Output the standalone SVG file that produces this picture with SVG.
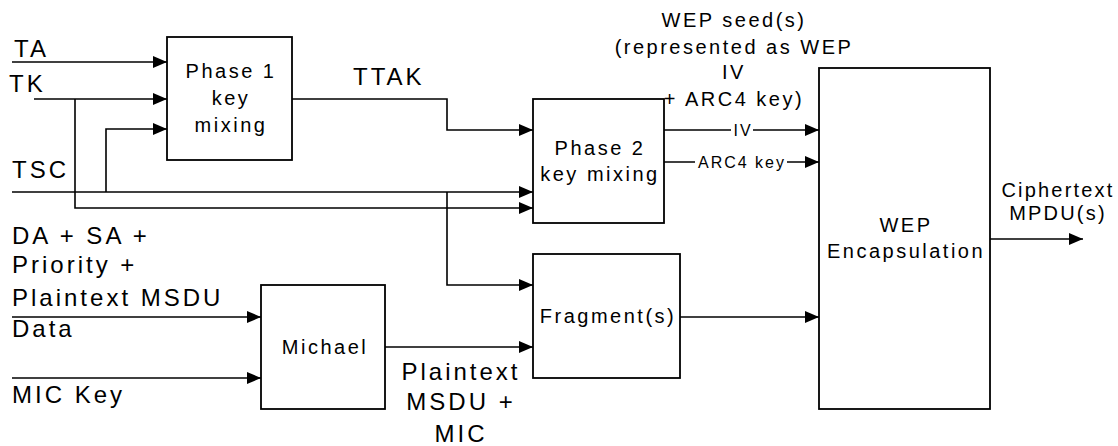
<svg xmlns="http://www.w3.org/2000/svg" width="1118" height="446" viewBox="0 0 1118 446">
<defs>
<marker id="arr" markerUnits="userSpaceOnUse" markerWidth="14" markerHeight="12" refX="14" refY="6" orient="auto">
<path d="M0,0 L14,6 L0,12 z" fill="#000"/>
</marker>
<style>
.box{fill:#fff;stroke:#000;stroke-width:1.8}
.ln{fill:none;stroke:#000;stroke-width:1.6}
.ar{marker-end:url(#arr)}
text{font-family:"Liberation Sans",Arial,sans-serif;fill:#000}
.big{font-size:24px;letter-spacing:3px}
.mid{font-size:20px;letter-spacing:2.5px}
.sm{font-size:16px;letter-spacing:2px}
.c{text-anchor:middle}
</style>
</defs>
<rect width="1118" height="446" fill="#fff"/>

<g id="connectors">
<path class="ln ar" d="M12,62 H167"/>
<path class="ln ar" d="M34,99 H167"/>
<path class="ln ar" d="M75,99 V208 H533"/>
<path class="ln ar" d="M12,192 H533"/>
<path class="ln ar" d="M106,192 V129 H167"/>
<path class="ln ar" d="M292,99 H447 V130 H533"/>
<path class="ln ar" d="M447,192 V285 H533"/>
<path class="ln ar" d="M12,317 H261"/>
<path class="ln ar" d="M12,378 H261"/>
<path class="ln ar" d="M385,347 H533"/>
<path class="ln ar" d="M680,317 H819"/>
<path class="ln ar" d="M664,130 H819"/>
<path class="ln ar" d="M664,162 H819"/>
<path class="ln ar" d="M990,239 H1083"/>
<rect x="731" y="121" width="22" height="18" fill="#fff"/>
<rect x="695" y="153" width="92" height="18" fill="#fff"/>
<text class="sm c" x="743" y="136">IV</text>
<text class="sm c" x="742" y="168">ARC4 key</text>
</g>

<g id="phase1">
<rect class="box" x="167" y="37" width="125" height="123"/>
<text class="mid c" x="231" y="78">Phase 1</text>
<text class="mid c" x="231" y="105">key</text>
<text class="mid c" x="231" y="132">mixing</text>
</g>

<g id="phase2">
<rect class="box" x="533" y="99" width="131" height="124"/>
<text class="mid c" x="600" y="155">Phase 2</text>
<text class="mid c" x="600" y="181">key mixing</text>
</g>

<g id="michael">
<rect class="box" x="261" y="285" width="124" height="124"/>
<text class="mid c" x="325" y="354">Michael</text>
</g>

<g id="fragments">
<rect class="box" x="533" y="254" width="147" height="124"/>
<text class="mid c" x="608" y="323">Fragment(s)</text>
</g>

<g id="wep">
<rect class="box" x="819" y="68" width="171" height="341"/>
<text class="mid c" x="906" y="232">WEP</text>
<text class="mid c" x="906" y="258">Encapsulation</text>
</g>

<g id="labels">
<text class="big" x="14" y="57">TA</text>
<text class="big" x="9" y="92">TK</text>
<text class="big" x="12" y="178">TSC</text>
<text class="big" x="353" y="85">TTAK</text>
<text class="big" x="12" y="244">DA + SA +</text>
<text class="big" x="12" y="273">Priority +</text>
<text class="big" x="12" y="306">Plaintext MSDU</text>
<text class="big" x="12" y="337">Data</text>
<text class="big" x="12" y="403">MIC Key</text>
<text class="big c" x="461" y="380">Plaintext</text>
<text class="big c" x="461" y="410">MSDU +</text>
<text class="big c" x="461" y="442">MIC</text>
<text class="mid c" x="734" y="27">WEP seed(s)</text>
<text class="mid c" x="734" y="54">(represented as WEP</text>
<text class="mid c" x="734" y="79">IV</text>
<text class="mid c" x="734" y="106">+ ARC4 key)</text>
<text class="mid c" x="1058" y="197" style="letter-spacing:2.2px">Ciphertext</text>
<text class="mid c" x="1058" y="220" style="letter-spacing:2.2px">MPDU(s)</text>
</g>
</svg>
